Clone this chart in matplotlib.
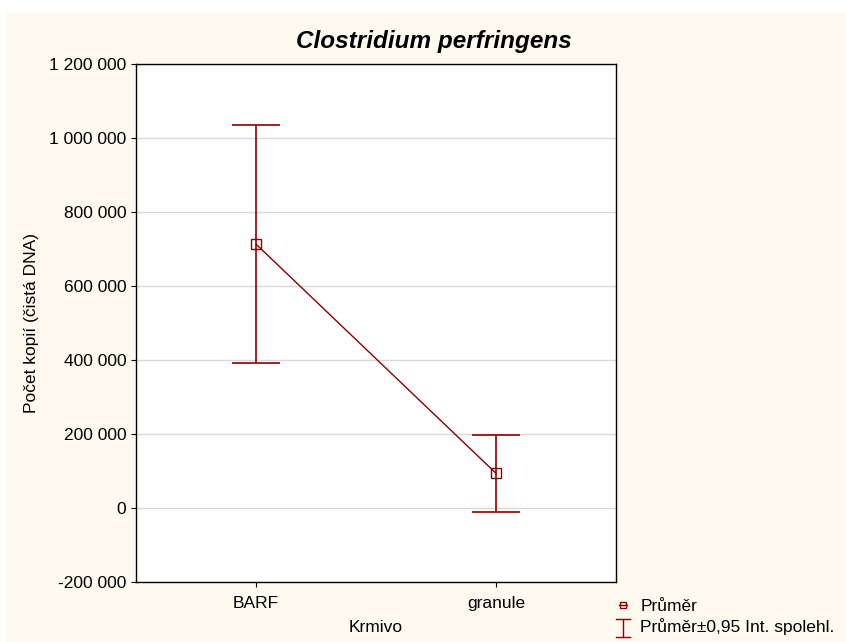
import matplotlib.pyplot as plt
from matplotlib.lines import Line2D
from matplotlib.patches import Rectangle
from matplotlib.legend_handler import HandlerBase
from matplotlib.ticker import FuncFormatter

plt.rcParams['font.family'] = ['Liberation Sans', 'DejaVu Sans']

# data
groups = ["BARF", "granule"]
means = [714000, 94500]
ci_low = [393500, -10000]
ci_high = [1036000, 197000]

dark_red = '#8b0000'
cream = '#fffaf0'


class ErrorBarHandle(HandlerBase):
    # small "I" symbol for the confidence interval entry
    def create_artists(self, legend, orig, xd, yd, w, h, fs, trans):
        cx = xd + w / 2
        y0, y1 = yd - 3, yd + h + 1
        lines = [Line2D([cx, cx], [y0, y1]),
                 Line2D([cx - 5, cx + 5], [y0, y0]),
                 Line2D([cx - 5, cx + 5], [y1, y1])]
        for l in lines:
            l.set_color(dark_red)
            l.set_linewidth(1)
            l.set_transform(trans)
        return lines


fig = plt.figure(figsize=(8.46, 6.42), dpi=100, facecolor=cream)
# white strip at top and left like the export
fig.patches.append(Rectangle((0, 1 - 13 / 642), 1, 13 / 642, transform=fig.transFigure,
                             facecolor='white', edgecolor='none', zorder=-1))
fig.patches.append(Rectangle((0, 0), 6 / 846, 1, transform=fig.transFigure,
                             facecolor='white', edgecolor='none', zorder=-1))

ax = fig.add_axes([136 / 846, 1 - 582.3 / 642, 480 / 846, 518 / 642])
ax.set_facecolor('white')

x = list(range(len(groups)))
yerr = [[m - lo for m, lo in zip(means, ci_low)], [hi - m for m, hi in zip(means, ci_high)]]

ax.plot(x, means, color=dark_red, lw=1, marker='s', ms=7, mfc='none', mec=dark_red, mew=1, zorder=3)
ax.errorbar(x, means, yerr=yerr, fmt='none', ecolor=dark_red, elinewidth=1.2,
            capsize=17, capthick=1.2, zorder=2)

ax.set_xlim(-0.5, 1.5)
ax.set_ylim(-200000, 1200000)
ax.set_yticks(range(-200000, 1200001, 200000))
ax.yaxis.set_major_formatter(FuncFormatter(lambda v, p: f"{int(v):,}".replace(",", " ")))
ax.set_xticks(x)
ax.set_xticklabels(groups)
ax.grid(axis='y', color='#d9d9d9', lw=1)
ax.set_axisbelow(True)
ax.tick_params(labelsize=12.5, length=3.6, direction='out', color='black')
ax.tick_params(axis='y', pad=3.5)
ax.tick_params(axis='x', pad=6)
for s in ax.spines.values():
    s.set_linewidth(1)
    s.set_color('black')

ax.set_xlabel("Krmivo", fontsize=12.5, labelpad=7)
ax.set_ylabel("Počet kopií (čistá DNA)", fontsize=12.5, labelpad=7)
fig.suptitle("Clostridium perfringens", x=0.513, y=1 - 30 / 642, fontsize=17.5,
             fontweight='bold', fontstyle='italic', va='top')

mean_handle = Line2D([], [], color=dark_red, lw=1, marker='s', ms=5, mfc='none', mec=dark_red)
ci_handle = Line2D([], [], color=dark_red)
fig.legend([mean_handle, ci_handle], ["Průměr", "Průměr±0,95 Int. spolehl."],
           handler_map={ci_handle: ErrorBarHandle()},
           loc='upper left', bbox_to_anchor=(618.5 / 846, 1 - 599 / 642),
           frameon=False, fontsize=12.5, handlelength=0.5, handletextpad=0.75,
           labelspacing=0.25, borderaxespad=0, borderpad=0)

fig.savefig("out.png", dpi=100, facecolor=cream)
